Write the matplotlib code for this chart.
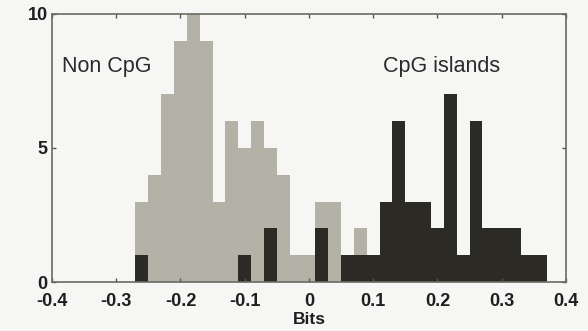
import numpy as np
import matplotlib.pyplot as plt

# bin edges: width 0.02, first bin starts at -0.27
bin_left = np.round(np.arange(-0.27, 0.37, 0.02), 2)

# counts per bin
non_cpg = [3, 4, 7, 9, 10, 9, 3, 6, 5, 6, 5, 4, 1, 1, 3, 3, 0, 2,
           0, 0, 0, 0, 0, 0, 0, 0, 0, 0, 0, 0, 0, 0]
cpg_islands = [1, 0, 0, 0, 0, 0, 0, 0, 1, 0, 2, 0, 0, 0, 2, 0, 1, 1,
               1, 3, 6, 3, 3, 2, 7, 1, 6, 2, 2, 2, 1, 1]

x_ticks = [-0.4, -0.3, -0.2, -0.1, 0, 0.1, 0.2, 0.3, 0.4]
x_tick_labels = ['-0.4', '-0.3', '-0.2', '-0.1', '0', '0.1', '0.2', '0.3', '0.4']
y_ticks = [0, 5, 10]

plt.rcParams['font.family'] = ['Liberation Sans', 'DejaVu Sans']

fig = plt.figure(figsize=(5.88, 3.31), dpi=100, facecolor='#f6f6f4')
ax = fig.add_axes([0.0884, 0.148, 0.874, 0.81])
ax.set_facecolor('#f6f6f4')

ax.bar(bin_left, non_cpg, width=0.02, align='edge', color='#b4b2a6', linewidth=0)
ax.bar(bin_left, cpg_islands, width=0.02, align='edge', color='#2b2a25', linewidth=0)

ax.set_xlim(-0.4, 0.4)
ax.set_ylim(0, 10)
ax.set_xticks(x_ticks)
ax.set_xticklabels(x_tick_labels)
ax.set_yticks(y_ticks)
ax.tick_params(direction='in', length=3, width=1, color='#555550',
               labelsize=13, top=True, right=True)
ax.tick_params(axis='x', pad=8)
ax.tick_params(axis='y', pad=3)
for lbl in ax.get_xticklabels() + ax.get_yticklabels():
    lbl.set_fontweight('bold')
    lbl.set_color('#1e1e1e')
for s in ax.spines.values():
    s.set_color('#6a6a62')
    s.set_linewidth(1.2)

ax.text(-0.385, 8.05, 'Non CpG', fontsize=15.5, va='center', color='#2a2a2a')
ax.text(0.115, 8.05, 'CpG islands', fontsize=15.5, va='center', color='#2a2a2a')
ax.set_xlabel('Bits', fontsize=12.5, fontweight='bold', labelpad=1, color='#1e1e1e')

fig.savefig('out.png', dpi=100, facecolor=fig.get_facecolor())
